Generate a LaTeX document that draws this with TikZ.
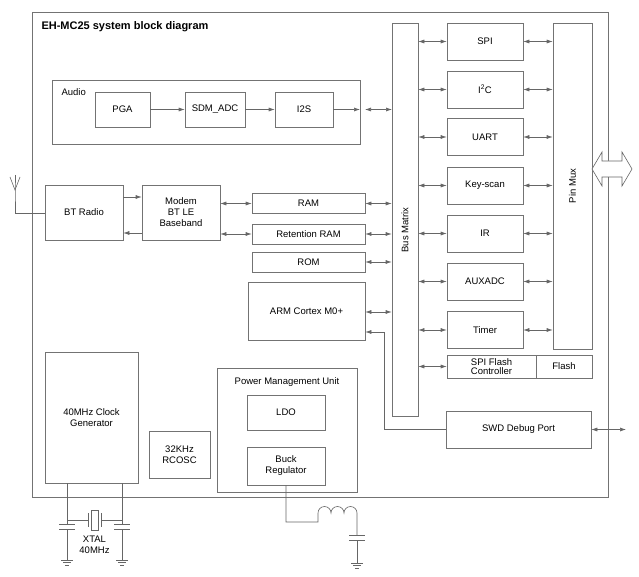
\documentclass[tikz,border=0pt]{standalone}
\usepackage{fontspec}
\setmainfont{Liberation Sans}
\usetikzlibrary{arrows.meta}
\begin{document}
\begin{tikzpicture}[x=1pt,y=-1pt,
  blk/.style={draw=black!55,line width=0.6pt},
  lbl/.style={font=\fontsize{9.5}{11}\selectfont,align=center},
  ln/.style={draw=black!60,line width=0.6pt},
  da/.style={ln,{Latex[length=6pt,width=4pt]}-{Latex[length=6pt,width=4pt]}},
  sa/.style={ln,-{Latex[length=6pt,width=4pt]}}]
\useasboundingbox (0,0) rectangle (639,577);
\draw[blk] (32,12) rectangle (608,497);
\node[anchor=west,font=\fontsize{11}{13}\selectfont\bfseries] (title) at (38,27) {EH-MC25 system block diagram};
% audio
\draw[blk] (52,80) rectangle (360,144);
\node[lbl,anchor=west] (audio) at (58,92) {Audio};
\node[blk,lbl,minimum width=55,minimum height=35] (pga) at (122.5,109.5) {PGA};
\node[blk,lbl,minimum width=60,minimum height=35] (sdm) at (215,109.5) {SDM\_ADC};
\node[blk,lbl,minimum width=58,minimum height=35] (i2s) at (304,109.5) {I2S};
\coordinate (ae) at (360,109.5);
\coordinate (ae2) at (365,109.5);
\draw[sa] (pga) -- (sdm);
\draw[sa] (sdm) -- (i2s);
\draw[sa] (i2s) -- (ae);
% bus
\node[blk,minimum width=26,minimum height=393] (bus) at (405,219.5) {};
\node[lbl,rotate=90] (bust) at (405,230) {Bus Matrix};
\coordinate (ab) at (392,109.5);
\draw[da] (ae2) -- (ab);
% pinmux
\node[blk,minimum width=39,minimum height=326] (pm) at (572.5,186) {};
\node[lbl,rotate=90] (pmt) at (572.5,186) {Pin Mux};
\foreach \n/\t/\y in {spi/SPI/41.5,i2c/{I\textsuperscript{2}C}/89.5,uart/UART/137,key/Key-scan/185.5,ir/IR/233.5,aux/AUXADC/281.5,tim/Timer/330}{
  \node[blk,lbl,minimum width=76,minimum height=37] (\n) at (485,\y) {\t};
  \draw[da] (bus.east|-\n) -- (\n);
  \draw[da] (\n) -- (pm.west|-\n);
}
\node[blk,lbl,minimum width=89,minimum height=23,inner sep=0pt,font=\fontsize{9.5}{9.5}\selectfont] (sfc) at (491.5,366.5) {SPI Flash\\Controller};
\node[blk,lbl,minimum width=56,minimum height=23] (fl) at (564,366.5) {Flash};
\draw[da] (bus.east|-sfc) -- (sfc);
\node[blk,lbl,minimum width=145,minimum height=37] (swd) at (518.5,429.5) {SWD Debug Port};
\coordinate (swde) at (626,429.5);
\draw[da] (swd) -- (swde);
\draw[ln,fill=white] (592,169) -- (602,152) -- (602,161) -- (622,161) -- (622,152) -- (632,169)
  -- (622,186) -- (622,177) -- (602,177) -- (602,186) -- cycle;
% BT
\node[blk,lbl,minimum width=78,minimum height=55] (bt) at (84,212.5) {BT Radio};
\node[blk,lbl,minimum width=78,minimum height=55] (mod) at (181,212.5) {Modem\\BT LE\\Baseband};
\draw[sa] (bt.east|-0,197) -- (mod.west|-0,197);
\draw[sa] (mod.west|-0,233) -- (bt.east|-0,233);
\coordinate (ant) at (15,190);
\coordinate (antb) at (15,213);
\draw[ln] (15,175) -- (ant) -- (antb) -- (bt.west|-antb);
\draw[ln] (10,177) -- (15,190) -- (20,177);
\node[blk,lbl,minimum width=113,minimum height=20] (ram) at (308.5,203.5) {RAM};
\node[blk,lbl,minimum width=113,minimum height=20] (rram) at (308.5,234) {Retention RAM};
\node[blk,lbl,minimum width=113,minimum height=20] (rom) at (308.5,262) {ROM};
\draw[da] (mod.east|-ram) -- (ram);
\draw[da] (mod.east|-rram) -- (rram);
\draw[da] (ram) -- (bus.west|-ram);
\draw[da] (rram) -- (bus.west|-rram);
\draw[da] (rom) -- (bus.west|-rom);
\node[blk,lbl,minimum width=117,minimum height=58] (arm) at (306.5,311) {ARM Cortex M0+};
\draw[da] (arm.east|-0,312) -- (bus.west|-0,312);
\coordinate (c1) at (384,332);
\coordinate (c2) at (384,429.5);
\draw[sa] (swd.west) -- (c2) -- (c1) -- (arm.east|-c1);
% clock
\node[blk,lbl,minimum width=93,minimum height=131,text depth=0pt] (clk) at (91.5,417.5) {40MHz Clock\\Generator};
\node[blk,lbl,minimum width=61,minimum height=47] (rc) at (179.5,454.5) {32KHz\\RCOSC};
\draw[blk] (217,368) rectangle (357,492);
\node[lbl] (pmu) at (287,382) {Power Management Unit};
\node[blk,lbl,minimum width=78,minimum height=35] (ldo) at (286,412.5) {LDO};
\node[blk,lbl,minimum width=78,minimum height=38] (buck) at (286,466) {Buck\\Regulator};
% crystal
\draw[ln] (67,483) -- (67,524) (67,529) -- (67,560);
\draw[ln] (122,483) -- (122,524) (122,529) -- (122,560);
\foreach \x in {67,122}{
  \draw[ln] (\x-8,524) -- (\x+8,524) (\x-8,529) -- (\x+8,529);
  \draw[ln] (\x-6,560) -- (\x+6,560) (\x-4,562.5) -- (\x+4,562.5) (\x-2,565) -- (\x+2,565);
}
\draw[ln] (67,520) -- (88,520) (101,520) -- (122,520);
\draw[ln] (88,513) -- (88,527) (101,513) -- (101,527);
\draw[ln] (91,510) rectangle (98,530);
\node[lbl,font=\fontsize{9.5}{10.5}\selectfont] (xtal) at (94.5,545) {XTAL\\40MHz};
% buck output
\draw[ln] (buck.south) -- (286,522) -- (318,522) -- (318,513)
  arc[start angle=180,end angle=360,radius=6.5] arc[start angle=180,end angle=360,radius=6.5] arc[start angle=180,end angle=360,radius=6.5] -- (357,535);
\draw[ln] (349,535) -- (365,535) (349,540) -- (365,540) (357,540) -- (357,563);
\draw[ln] (351,563) -- (363,563) (353,565.5) -- (361,565.5) (355,568) -- (359,568);
\end{tikzpicture}
\end{document}
